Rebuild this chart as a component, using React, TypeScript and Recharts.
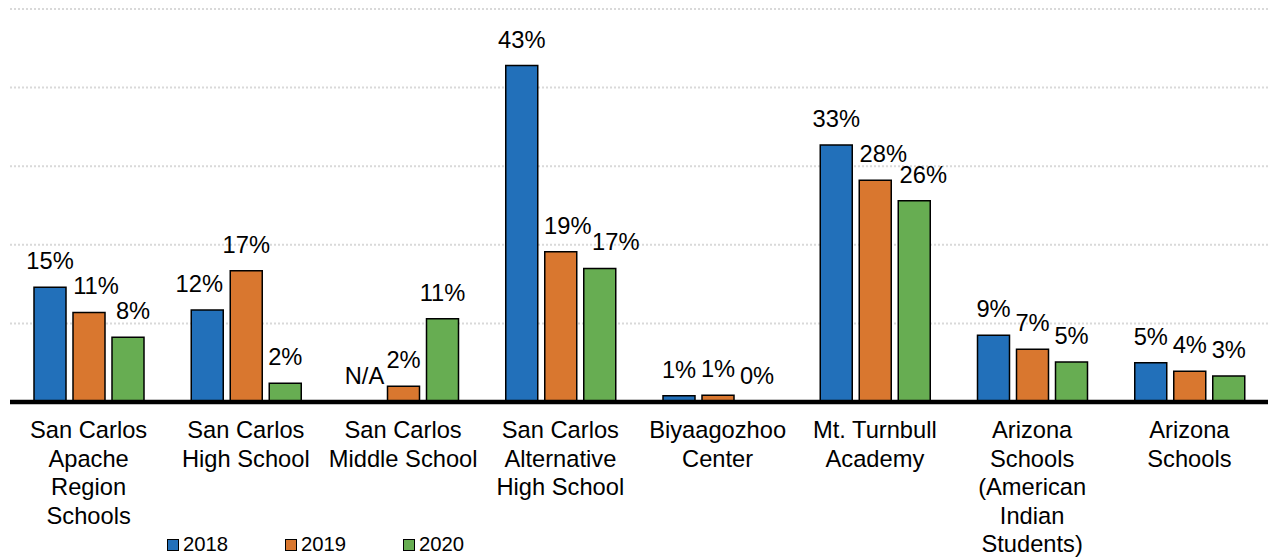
import React from 'react';
import { BarChart, Bar, XAxis, YAxis, CartesianGrid, LabelList, Legend, Cell } from 'recharts';

const categories = [
  'San Carlos\nApache\nRegion\nSchools',
  'San Carlos\nHigh School',
  'San Carlos\nMiddle School',
  'San Carlos\nAlternative\nHigh School',
  'Biyaagozhoo\nCenter',
  'Mt. Turnbull\nAcademy',
  'Arizona\nSchools\n(American\nIndian\nStudents)',
  'Arizona\nSchools',
];

// 0.001 stands for "no bar" (N/A or 0%) so that the label still gets placed
const values2018 = [14.6, 11.7, 0.001, 42.8, 0.8, 32.7, 8.5, 5.0];
const values2019 = [11.4, 16.7, 2.0, 19.1, 0.85, 28.2, 6.7, 3.9];
const values2020 = [8.25, 2.4, 10.6, 17.0, 0.001, 25.6, 5.1, 3.3];

const labels2018 = ['15%', '12%', 'N/A', '43%', '1%', '33%', '9%', '5%'];
const labels2019 = ['11%', '17%', '2%', '19%', '1%', '28%', '7%', '4%'];
const labels2020 = ['8%', '2%', '11%', '17%', '0%', '26%', '5%', '3%'];

const yTicks = [0, 10, 20, 30, 40, 50];

const seriesNames = ['2018', '2019', '2020'];
const COLORS = ['#2270BA', '#D9772F', '#67AD52'];

// style: horizontal nudges of individual data labels (to avoid overlaps, as in the original)
const labelNudge: Record<string, Record<number, number>> = {
  '2018': { 1: -8 },
  '2019': { 0: 7, 3: 7, 5: 8 },
  '2020': { 0: 5, 3: 16, 5: 9 },
};

const data = categories.map((c, i) => ({
  name: c,
  v2018: values2018[i],
  v2019: values2019[i],
  v2020: values2020[i],
  l2018: labels2018[i],
  l2019: labels2019[i],
  l2020: labels2020[i],
}));

const FONT = '"Liberation Sans", Arial, Helvetica, sans-serif';
const FS = 23.7;

const makeLabel = (series: string) => (props: any) => {
  const { x, y, width, value, index } = props;
  if (value === undefined || value === null) return null;
  const dx = labelNudge[series][index] || 0;
  return (
    <text
      x={Number(x) + Number(width) / 2 + dx}
      y={Number(y) - 18}
      textAnchor="middle"
      fontSize={FS}
      fontFamily={FONT}
      fill="#000"
    >
      {value}
    </text>
  );
};

const CategoryTick = (props: any) => {
  const { x, y, payload } = props;
  const lines = String(payload.value).split('\n');
  return (
    <g>
      {lines.map((line: string, i: number) => (
        <text
          key={i}
          x={x}
          y={y + 36 + i * 28.5}
          textAnchor="middle"
          fontSize={FS}
          fontFamily={FONT}
          fill="#000"
        >
          {line}
        </text>
      ))}
    </g>
  );
};

const LegendContent = () => (
  <div style={{ display: 'flex', fontFamily: FONT, fontSize: 20.3, color: '#000' }}>
    {seriesNames.map((s, i) => (
      <div key={s} style={{ display: 'flex', alignItems: 'center', width: 118 }}>
        <span
          style={{
            display: 'inline-block',
            width: 10,
            height: 10,
            background: COLORS[i],
            border: '1.5px solid #000',
            marginRight: 4,
          }}
        />
        <span>{s}</span>
      </div>
    ))}
  </div>
);

const seriesValues = [values2018, values2019, values2020];

export default function App() {
  return (
    <div style={{ position: 'absolute', left: 0, top: 0, fontFamily: FONT }}>
      <BarChart
        width={1271}
        height={559}
        data={data}
        margin={{ top: 9, right: 3, bottom: 0, left: 10 }}
        barSize={32}
        barGap={7}
      >
        <CartesianGrid
          vertical={false}
          stroke="#d9d9d9"
          strokeWidth={2}
          strokeDasharray="2 2"
          horizontalValues={[10, 20, 30, 40, 50]}
        />
        <YAxis hide domain={[0, 50]} ticks={yTicks} />
        <XAxis
          dataKey="name"
          interval={0}
          height={157}
          tickLine={false}
          tickSize={0}
          tickMargin={0}
          axisLine={{ stroke: '#000', strokeWidth: 4.5 }}
          tick={<CategoryTick />}
        />
        <Legend
          layout="horizontal"
          verticalAlign="middle"
          align="center"
          content={<LegendContent />}
          wrapperStyle={{ position: 'absolute', left: 167, top: 533, width: 360, height: 24 }}
        />
        {seriesNames.map((k, si) => (
          <Bar
            key={k}
            dataKey={'v' + k}
            name={k}
            fill={COLORS[si]}
            stroke="#000"
            strokeWidth={1.5}
            isAnimationActive={false}
          >
            {seriesValues[si].map((v, i) => (
              <Cell key={i} stroke={v < 0.01 ? 'none' : '#000'} />
            ))}
            <LabelList dataKey={'l' + k} content={makeLabel(k)} />
          </Bar>
        ))}
      </BarChart>
    </div>
  );
}
